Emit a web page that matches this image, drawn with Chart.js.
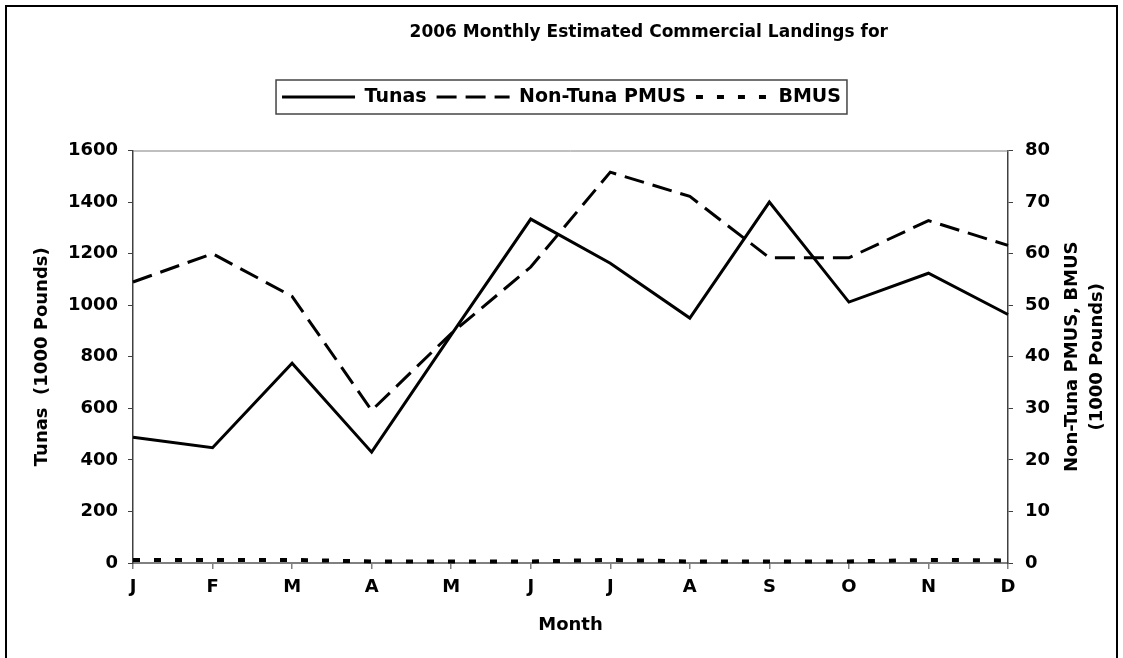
<!DOCTYPE html>
<html>
<head>
<meta charset="utf-8">
<script src="https://cdn.jsdelivr.net/npm/chart.js@4.4.1/dist/chart.umd.min.js"></script>
<style>
  html, body { margin: 0; padding: 0; background: #fff; }
  #contenedor { width: 1123px; height: 658px; }
</style>
</head>
<body>
<div id="contenedor"><canvas id="canvasDesembarques"></canvas></div>
<script>
// Datos (miles de libras)
var meses = ["J", "F", "M", "A", "M", "J", "J", "A", "S", "O", "N", "D"];
var tunas = [488, 447, 775, 430, 885, 1334, 1163, 950, 1400, 1012, 1124, 964];
var noTunaPmus = [54.5, 60, 51.7, 29.6, 44.5, 57.4, 75.8, 71.1, 59.2, 59.2, 66.4, 61.6];
var bmus = [0.6, 0.6, 0.6, 0.3, 0.3, 0.3, 0.6, 0.3, 0.3, 0.3, 0.6, 0.5];

var titulo = "2006 Monthly Estimated Commercial Landings for";
var fuente = "'DejaVu Sans', Verdana, sans-serif";

// Marco exterior, titulo, borde superior del area de trazado, caja de la leyenda y titulo derecho
var decoracion = {
  id: "decoracion",
  beforeLayout: function (chart) {
    // espacio extra bajo la leyenda
    var leg = chart.legend;
    if (leg && !leg._parcheado) {
      var fitOriginal = leg.fit;
      leg.fit = function () {
        fitOriginal.call(this);
        if (this.height > 0) this.height += 34;
      };
      leg._parcheado = true;
    }
  },
  beforeDraw: function (chart) {
    var ctx = chart.ctx;
    ctx.save();
    ctx.fillStyle = "#fff";
    ctx.fillRect(0, 0, chart.width, chart.height);
    ctx.strokeStyle = "#000";
    ctx.lineWidth = 2;
    ctx.beginPath();
    ctx.moveTo(6, chart.height + 2);
    ctx.lineTo(6, 6);
    ctx.lineTo(1117, 6);
    ctx.lineTo(1117, chart.height + 2);
    ctx.stroke();

    // titulo (desplazado a la derecha como en el original)
    ctx.fillStyle = "#000";
    ctx.font = "bold 17px " + fuente;
    ctx.textAlign = "right";
    ctx.textBaseline = "middle";
    ctx.fillText(titulo, 888, 33);
    ctx.restore();
  },
  afterDraw: function (chart) {
    var ctx = chart.ctx;
    var area = chart.chartArea;
    ctx.save();
    // borde superior gris del area de trazado
    ctx.strokeStyle = "#808080";
    ctx.lineWidth = 1;
    ctx.beginPath();
    ctx.moveTo(area.left, area.top + 0.5);
    ctx.lineTo(area.right, area.top + 0.5);
    ctx.stroke();

    // caja alrededor de la leyenda
    var cajas = chart.legend.legendHitBoxes;
    if (cajas && cajas.length) {
      var izq = cajas[0].left, der = 0, arriba = cajas[0].top, alto = cajas[0].height;
      cajas.forEach(function (c) {
        izq = Math.min(izq, c.left);
        der = Math.max(der, c.left + c.width);
      });
      var centroY = arriba + alto / 2;
      ctx.strokeStyle = "#444";
      ctx.lineWidth = 1.5;
      ctx.strokeRect(izq - 6, centroY - 17, der - izq + 12, 34);
    }

    // titulo del eje derecho (leido de abajo hacia arriba)
    ctx.fillStyle = "#000";
    ctx.font = "bold 18px " + fuente;
    ctx.textAlign = "center";
    ctx.textBaseline = "middle";
    ctx.translate(0, (area.top + area.bottom) / 2);
    ctx.rotate(-Math.PI / 2);
    ctx.fillText("Non-Tuna PMUS, BMUS", 0, 1072);
    ctx.fillText("(1000 Pounds)", 0, 1097);
    ctx.restore();
  }
};

function sinComas(valor) {
  return String(valor);
}

var ctx = document.getElementById("canvasDesembarques").getContext("2d");
var chart = new Chart(ctx, {
  type: "line",
  data: {
    labels: meses,
    datasets: [
      {
        label: "Tunas",
        data: tunas,
        yAxisID: "y",
        borderColor: "#000",
        backgroundColor: "#000",
        borderWidth: 3,
        borderJoinStyle: "miter",
        pointRadius: 0,
        tension: 0,
        clip: false,
      },
      {
        label: "Non-Tuna PMUS",
        data: noTunaPmus,
        yAxisID: "y1",
        borderColor: "#000",
        backgroundColor: "#000",
        borderWidth: 3,
        borderDash: [20, 9],
        borderJoinStyle: "miter",
        pointRadius: 0,
        tension: 0,
        clip: false,
      },
      {
        label: "BMUS",
        data: bmus,
        yAxisID: "y1",
        borderColor: "#000",
        backgroundColor: "#000",
        borderWidth: 4,
        borderDash: [7, 14],
        pointRadius: 0,
        tension: 0,
        clip: false,
      },
    ],
  },
  options: {
    responsive: true,
    maintainAspectRatio: false,
    animation: false,
    layout: { padding: { left: 10, right: 10, top: 77.5, bottom: 0 } },
    plugins: {
      title: { display: false },
      legend: {
        display: true,
        labels: {
          color: "#000",
          font: { family: fuente, size: 19, weight: "bold" },
          usePointStyle: true,
          pointStyle: "line",
          pointStyleWidth: 73,
          padding: 10,
          generateLabels: function (chart) {
            var items = Chart.defaults.plugins.legend.labels.generateLabels(chart);
            items.forEach(function (item) {
              var ds = chart.data.datasets[item.datasetIndex];
              item.lineDash = ds.borderDash || [];
              item.lineWidth = ds.borderWidth;
              item.strokeStyle = "#000";
              item.lineCap = "butt";
            });
            return items;
          },
        },
      },
      tooltip: { enabled: false },
    },
    scales: {
      x: {
        offset: false,
        afterFit: function (scale) { scale.height = 95; },
        grid: { display: true, drawOnChartArea: false, tickLength: 6, color: "#808080", lineWidth: 1.5 },
        border: { color: "#808080", width: 2 },
        ticks: {
          color: "#000",
          font: { family: fuente, size: 18, weight: "bold" },
          padding: 8,
          maxRotation: 0,
          autoSkip: false,
        },
        title: {
          display: true,
          text: "Month",
          color: "#000",
          font: { family: fuente, size: 18, weight: "bold" },
          padding: { top: 0, bottom: 22 },
        },
      },
      y: {
        position: "left",
        min: 0,
        max: 1600,
        afterFit: function (scale) { scale.width = 123; },
        grid: { display: true, drawOnChartArea: false, tickLength: 5, color: "#404040" },
        border: { color: "#404040", width: 1.5 },
        ticks: {
          stepSize: 200,
          color: "#000",
          font: { family: fuente, size: 18, weight: "bold" },
          padding: 10,
          callback: sinComas,
        },
        title: {
          display: true,
          text: "Tunas  (1000 Pounds)",
          color: "#000",
          font: { family: fuente, size: 18, weight: "bold" },
          padding: { top: 22, bottom: 0 },
        },
      },
      y1: {
        position: "right",
        min: 0,
        max: 80,
        afterFit: function (scale) { scale.width = 105; },
        grid: { display: true, drawOnChartArea: false, tickLength: 5, color: "#404040" },
        border: { color: "#404040", width: 1.5 },
        ticks: {
          stepSize: 10,
          color: "#000",
          font: { family: fuente, size: 18, weight: "bold" },
          padding: 12,
          callback: sinComas,
        },
      },
    },
  },
  plugins: [decoracion],
});
</script>
</body>
</html>
